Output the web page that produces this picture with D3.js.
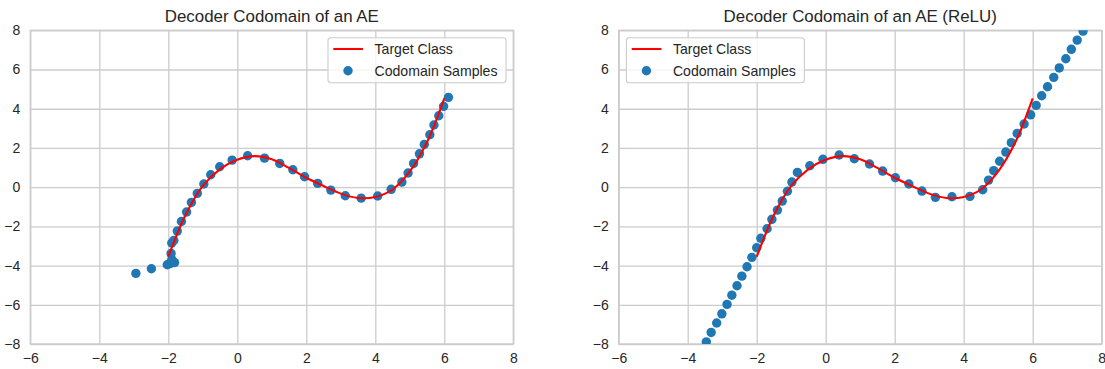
<!DOCTYPE html>
<html>
<head>
<meta charset="utf-8">
<script src="https://cdn.jsdelivr.net/npm/d3@7"></script>
<style>
  html, body { margin: 0; padding: 0; background: #ffffff; }
  svg { display: block; }
  text { font-family: "Liberation Sans", Arial, sans-serif; fill: #262626; }
</style>
</head>
<body>
<svg id="chart" width="1105" height="369"></svg>
<script>
// Target class curve (shared by both panels)
const targetX = [-2, -1.5, -1, -0.5, 0, 0.5, 1, 1.5, 2, 2.5, 3, 3.5, 4, 4.5, 5, 5.5, 6];
const targetY = [-3.55, -1.42, 0.06, 0.92, 1.40, 1.58, 1.42, 0.98, 0.48, 0.06, -0.33, -0.55, -0.50, -0.12, 0.80, 2.30, 4.53];

// Codomain samples, plain AE
const aeX = [-2.94, -2.49, -2.03, -1.95, -1.86, -1.82, -1.90, -1.92, -1.90, -1.84, -1.74, -1.62, -1.47, -1.33, -1.16, -0.97, -0.77, -0.51, -0.15, 0.30, 0.79, 1.23, 1.61, 1.95, 2.33, 2.71, 3.13, 3.59, 4.07, 4.46, 4.77, 4.95, 5.11, 5.28, 5.42, 5.58, 5.70, 5.84, 5.98, 6.12];
const aeY = [-4.40, -4.16, -3.96, -3.90, -3.79, -3.85, -3.70, -3.38, -2.85, -2.72, -2.24, -1.75, -1.27, -0.78, -0.32, 0.16, 0.63, 1.04, 1.38, 1.60, 1.48, 1.21, 0.89, 0.53, 0.19, -0.15, -0.44, -0.56, -0.45, -0.11, 0.26, 0.72, 1.21, 1.70, 2.18, 2.67, 3.17, 3.64, 4.12, 4.58];

// Codomain samples, ReLU AE
const reluX = [-3.46, -3.32, -3.16, -3.01, -2.86, -2.72, -2.57, -2.43, -2.28, -2.14, -2.00, -1.88, -1.70, -1.56, -1.40, -1.26, -1.11, -0.98, -0.82, -0.46, -0.08, 0.39, 0.83, 1.27, 1.65, 2.02, 2.41, 2.79, 3.18, 3.66, 4.18, 4.55, 4.72, 4.87, 5.04, 5.22, 5.38, 5.55, 5.75, 5.94, 6.10, 6.26, 6.43, 6.61, 6.77, 6.96, 7.12, 7.29, 7.46];
const reluY = [-7.89, -7.41, -6.93, -6.46, -5.98, -5.51, -5.03, -4.54, -4.06, -3.58, -3.09, -2.61, -2.12, -1.64, -1.17, -0.71, -0.21, 0.26, 0.75, 1.09, 1.42, 1.64, 1.45, 1.18, 0.82, 0.48, 0.16, -0.20, -0.52, -0.49, -0.47, -0.13, 0.36, 0.84, 1.32, 1.79, 2.27, 2.74, 3.22, 3.69, 4.17, 4.66, 5.12, 5.60, 6.08, 6.55, 7.03, 7.50, 7.96];

const xTicks = [-6, -4, -2, 0, 2, 4, 6, 8];
const yTicks = [-8, -6, -4, -2, 0, 2, 4, 6, 8];
const titles = ["Decoder Codomain of an AE", "Decoder Codomain of an AE (ReLU)"];
const legendLabels = ["Target Class", "Codomain Samples"];

const svg = d3.select("#chart");
const plotW = 483, plotH = 313.7, plotTop = 30.3;
const panels = [
  { left: 30.3, title: titles[0], xs: aeX, ys: aeY, legendLeft: false },
  { left: 618.7, title: titles[1], xs: reluX, ys: reluY, legendLeft: true }
];

const gridColor = "#cccccc";
const dotColor = "#1f77b4";
const dotR = 4.7;
const fmt = d => d3.format("d")(d).replace("-", "\u2212");

panels.forEach((p, i) => {
  const g = svg.append("g").attr("transform", `translate(${p.left},${plotTop})`);
  const x = d3.scaleLinear().domain([-6, 8]).range([0, plotW]);
  const y = d3.scaleLinear().domain([-8, 8]).range([plotH, 0]);

  // grid + tick labels
  const xAxis = g.append("g").attr("transform", `translate(0,${plotH})`)
    .call(d3.axisBottom(x).tickValues(xTicks).tickSize(-plotH).tickPadding(9.5).tickFormat(fmt));
  const yAxis = g.append("g")
    .call(d3.axisLeft(y).tickValues(yTicks).tickSize(-plotW).tickPadding(10).tickFormat(fmt));
  [xAxis, yAxis].forEach(a => {
    a.select(".domain").remove();
    a.selectAll("line").attr("stroke", gridColor).attr("stroke-width", 1.3);
    a.selectAll("text").attr("font-size", "14px").attr("fill", "#262626")
      .attr("font-family", "'Liberation Sans', Arial, sans-serif");
  });

  // frame
  g.append("rect").attr("x", 0).attr("y", 0).attr("width", plotW).attr("height", plotH)
    .attr("fill", "none").attr("stroke", gridColor).attr("stroke-width", 1.4);

  // clip region
  const clipId = "clip" + i;
  g.append("clipPath").attr("id", clipId).append("rect")
    .attr("width", plotW).attr("height", plotH);

  const plot = g.append("g").attr("clip-path", `url(#${clipId})`);

  // samples
  plot.selectAll("circle").data(d3.range(p.xs.length)).join("circle")
    .attr("cx", k => x(p.xs[k])).attr("cy", k => y(p.ys[k]))
    .attr("r", dotR).attr("fill", dotColor);

  // target curve
  const line = d3.line().x(k => x(targetX[k])).y(k => y(targetY[k])).curve(d3.curveCatmullRom.alpha(0.5));
  plot.append("path").attr("d", line(d3.range(targetX.length)))
    .attr("fill", "none").attr("stroke", "#ff0000").attr("stroke-width", 2.1);

  // title
  g.append("text").attr("x", plotW / 2).attr("y", -8.5).attr("text-anchor", "middle")
    .attr("font-size", "16.9px").text(p.title);

  // legend
  const lw = 178, lh = 45;
  const lx = p.legendLeft ? 7.7 : plotW - 7.3 - lw;
  const ly = 7.4;
  const lg = g.append("g").attr("transform", `translate(${lx},${ly})`);
  lg.append("rect").attr("width", lw).attr("height", lh).attr("rx", 3)
    .attr("fill", "#ffffff").attr("fill-opacity", 0.8)
    .attr("stroke", gridColor).attr("stroke-width", 1.1);
  lg.append("line").attr("x1", 5.3).attr("x2", 35).attr("y1", 11.3).attr("y2", 11.3)
    .attr("stroke", "#ff0000").attr("stroke-width", 2.1);
  lg.append("circle").attr("cx", 20).attr("cy", 33).attr("r", dotR).attr("fill", dotColor);
  lg.append("text").attr("x", 46.5).attr("y", 11.3).attr("dy", "0.35em")
    .attr("font-size", "14.1px").text(legendLabels[0]);
  lg.append("text").attr("x", 46.5).attr("y", 33).attr("dy", "0.35em")
    .attr("font-size", "14.1px").text(legendLabels[1]);
});
</script>
</body>
</html>
